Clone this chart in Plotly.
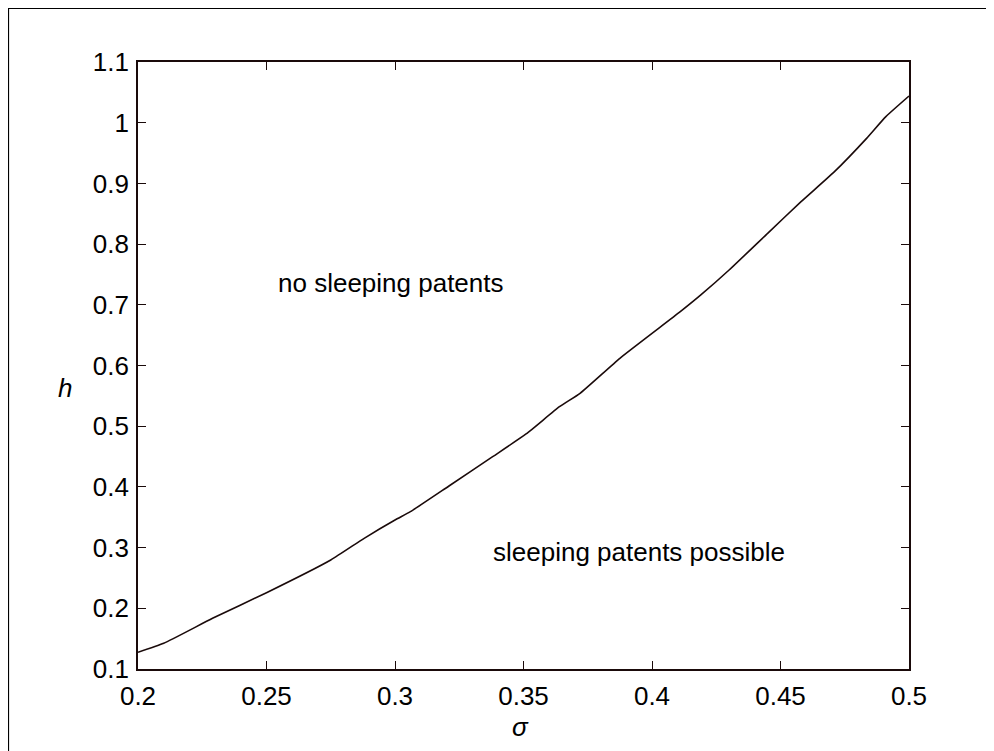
import plotly.graph_objects as go

sigma = [0.2, 0.21, 0.229, 0.25, 0.275, 0.288, 0.3, 0.306, 0.321, 0.338, 0.351,
         0.364, 0.372, 0.3875, 0.411, 0.419, 0.430, 0.445, 0.458, 0.471, 0.4835, 0.491, 0.5]
h = [0.1275, 0.1423, 0.1835, 0.2257, 0.2796, 0.3153, 0.3455, 0.3592, 0.4015, 0.4498, 0.4872,
     0.5321, 0.5542, 0.6119, 0.6886, 0.7162, 0.7573, 0.8178, 0.8699, 0.9193, 0.9742, 1.010, 1.044]

x_ticks = [0.2, 0.25, 0.3, 0.35, 0.4, 0.45, 0.5]
x_tick_labels = ["0.2", "0.25", "0.3", "0.35", "0.4", "0.45", "0.5"]
y_ticks = [0.1, 0.2, 0.3, 0.4, 0.5, 0.6, 0.7, 0.8, 0.9, 1.0, 1.1]
y_tick_labels = ["0.1", "0.2", "0.3", "0.4", "0.5", "0.6", "0.7", "0.8", "0.9", "1", "1.1"]

region_labels = ["no sleeping patents", "sleeping patents possible"]
region_x = [0.2986, 0.395]
region_y = [0.736, 0.293]

x_title = "σ"
y_title = "h"

FONT = "Liberation Sans, Arial, sans-serif"
FS = 26
INK = "#1a0a0a"

# plot area in page pixels (figure is placed at page offset 8,8)
PL, PR, PT, PB = 138, 909, 62, 669
PW, PH = PR - PL, PB - PT


def px(xp):
    return (xp - PL) / PW


def py(yp):
    return (PB - yp) / PH


fig = go.Figure()
fig.add_trace(go.Scatter(x=sigma, y=h, mode="lines",
                         line=dict(color=INK, width=1.6, shape="spline", smoothing=0.5),
                         showlegend=False, hoverinfo="skip"))

for t, xx, yy in zip(region_labels, region_x, region_y):
    fig.add_annotation(x=xx, y=yy, text=t, showarrow=False,
                       xanchor="center", yanchor="middle",
                       font=dict(family=FONT, size=FS, color="black"))

fig.add_annotation(xref="paper", yref="paper", x=px(520), y=py(727), text="<i>%s</i>" % x_title,
                   showarrow=False, xanchor="center", yanchor="middle", borderpad=0,
                   font=dict(family=FONT, size=FS, color="black"))
fig.add_annotation(xref="paper", yref="paper", x=px(65), y=py(388), text="<i>%s</i>" % y_title,
                   showarrow=False, xanchor="center", yanchor="middle",
                   font=dict(family=FONT, size=FS, color="black"))

axis_common = dict(showline=True, linecolor=INK, linewidth=1.6, mirror="ticks",
                   ticks="inside", ticklen=8, tickwidth=1.4, tickcolor=INK,
                   showgrid=False, zeroline=False,
                   tickfont=dict(family=FONT, size=FS, color="black"))

fig.update_xaxes(range=[0.2, 0.5], tickvals=x_ticks, ticktext=x_tick_labels,
                 ticklabelstandoff=3, **axis_common)
fig.update_yaxes(range=[0.1, 1.1], tickvals=y_ticks, ticktext=y_tick_labels,
                 ticklabelstandoff=2, **axis_common)

# outer figure frame
fig.add_shape(type="rect", xref="paper", yref="paper",
              x0=px(8.5), x1=px(1010), y0=py(770), y1=py(8.5),
              line=dict(color="black", width=1.2), fillcolor="rgba(0,0,0,0)", layer="below")

fig.update_layout(width=986, height=743,
                  margin=dict(l=PL - 8, r=986 - (PR - 8), t=PT - 8, b=743 - (PB - 8)),
                  paper_bgcolor="white", plot_bgcolor="white",
                  font=dict(family=FONT, color="black"))
fig.write_html("out.html")
